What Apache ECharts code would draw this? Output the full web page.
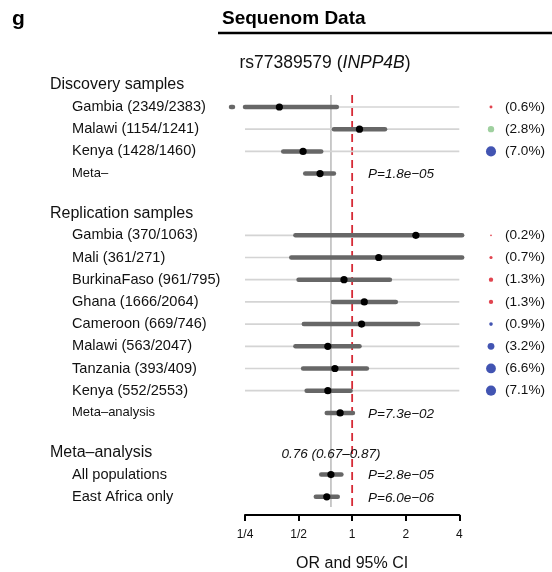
<!DOCTYPE html>
<html>
<head>
<meta charset="utf-8">
<script src="https://cdn.jsdelivr.net/npm/echarts@6/dist/echarts.min.js"></script>
<style>
html,body{margin:0;padding:0;background:#fff;}
#chart{width:552px;height:572px;}
</style>
</head>
<body>
<div id="chart"></div>
<script>
// ---------------- DATA ----------------
var discoveryLabels = ['Gambia (2349/2383)', 'Malawi (1154/1241)', 'Kenya (1428/1460)'];
var discoveryOR     = [0.39, 1.10, 0.53];
var discoveryLo     = [0.21, 0.79, 0.41];
var discoveryHi     = [0.82, 1.53, 0.67];
var discoveryFreq   = [0.6, 2.8, 7.0];
var discoveryGroup  = ['west', 'south', 'east'];
var discoveryMeta   = {label: 'Meta\u2013', or: 0.66, lo: 0.545, hi: 0.79, p: 'P=1.8e\u221205'};

var replicationLabels = ['Gambia (370/1063)', 'Mali (361/271)', 'BurkinaFaso (961/795)', 'Ghana (1666/2064)',
                         'Cameroon (669/746)', 'Malawi (563/2047)', 'Tanzania (393/409)', 'Kenya (552/2553)'];
var replicationOR   = [2.28, 1.41, 0.90, 1.17, 1.13, 0.73, 0.80, 0.73];
var replicationLo   = [0.48, 0.455, 0.50, 0.78, 0.535, 0.48, 0.53, 0.555];
var replicationHi   = [4.15, 4.15, 1.63, 1.76, 2.35, 1.10, 1.21, 0.98];
var replicationFreq = [0.2, 0.7, 1.3, 1.3, 0.9, 3.2, 6.6, 7.1];
var replicationGroup = ['west', 'west', 'west', 'west', 'east', 'east', 'east', 'east'];
var replicationMeta = {label: 'Meta\u2013analysis', or: 0.856, lo: 0.72, hi: 1.01, p: 'P=7.3e\u221202'};

var metaLabels = ['All populations', 'East Africa only'];
var metaOR     = [0.76, 0.72];
var metaLo     = [0.67, 0.625];
var metaHi     = [0.87, 0.83];
var metaP      = ['P=2.8e\u221205', 'P=6.0e\u221206'];
var metaSummaryText = '0.76 (0.67\u20130.87)';

var groupHeaders = ['Discovery samples', 'Replication samples', 'Meta\u2013analysis'];
var tickValues = [0.25, 0.5, 1, 2, 4];
var tickLabels = ['1/4', '1/2', '1', '2', '4'];
var nullOR = 1;
var overallOR = metaOR[0];

// ---------------- LAYOUT / STYLE ----------------
var FONT = '"Liberation Sans", Arial, Helvetica, sans-serif';
var groupColors = {west: '#e1444f', south: '#9fd09f', east: '#4254b2'};
var GAP = 2.78;

var rows = [];
var pos = 0;
function addHeader(text, extra) { rows.push({kind: 'header', label: text, pos: pos - 1, extra: extra}); }
function addStudies(labels, or, lo, hi, freq, grp) {
  for (var i = 0; i < labels.length; i++) {
    rows.push({kind: 'study', label: labels[i], or: or[i], lo: lo[i], hi: hi[i], freq: freq[i], grp: grp[i], pos: pos});
    pos += 1;
  }
}
function addMeta(m, small) {
  rows.push({kind: 'meta', small: small, label: m.label, or: m.or, lo: m.lo, hi: m.hi, p: m.p, pos: pos});
  pos += 1;
}
addHeader(groupHeaders[0]);
addStudies(discoveryLabels, discoveryOR, discoveryLo, discoveryHi, discoveryFreq, discoveryGroup);
addMeta(discoveryMeta, true);
pos += GAP - 1;
addHeader(groupHeaders[1]);
addStudies(replicationLabels, replicationOR, replicationLo, replicationHi, replicationFreq, replicationGroup);
addMeta(replicationMeta, true);
pos += GAP - 1;
addHeader(groupHeaders[2], metaSummaryText);
for (var k = 0; k < metaLabels.length; k++) {
  addMeta({label: metaLabels[k], or: metaOR[k], lo: metaLo[k], hi: metaHi[k], p: metaP[k]}, false);
}
var yMin = -0.54, yMax = pos - 1 + 0.46;

var chart = echarts.init(document.getElementById('chart'), null, {renderer: 'canvas'});

function renderRow(params, api) {
  var row = rows[api.value(0)];
  var y = api.coord([1, row.pos])[1];
  function X(v) { return api.coord([v, row.pos])[0]; }
  var ch = [];
  if (row.kind === 'header') {
    ch.push({type: 'text', style: {x: 50, y: y, text: row.label, font: '16px ' + FONT, fill: '#111', textVerticalAlign: 'middle'}});
    if (row.extra) {
      ch.push({type: 'text', style: {x: X(overallOR), y: y + 2, text: row.extra, font: 'italic 13.5px ' + FONT, fill: '#111', textAlign: 'center', textVerticalAlign: 'middle'}});
    }
    return {type: 'group', children: ch};
  }
  var minV = tickValues[0];
  if (row.kind === 'study') {
    ch.push({type: 'line', shape: {x1: X(tickValues[0]), y1: y, x2: X(tickValues[tickValues.length - 1]), y2: y},
      style: {stroke: '#d4d4d4', lineWidth: 1.7}});
  }
  var x1 = X(Math.max(row.lo, minV)), x2 = X(row.hi);
  ch.push({type: 'line', shape: {x1: x1, y1: y, x2: x2, y2: y}, style: {stroke: '#676767', lineWidth: 4.5, lineCap: 'round'}});
  if (row.lo < minV) {
    ch.push({type: 'line', shape: {x1: x1 - 14, y1: y, x2: x1 - 12, y2: y}, style: {stroke: '#676767', lineWidth: 4.5, lineCap: 'round'}});
  }
  ch.push({type: 'circle', shape: {cx: X(row.or), cy: y, r: 3.6}, style: {fill: '#000'}});
  var small = row.kind === 'meta' && row.small;
  ch.push({type: 'text', style: {x: 72, y: y, text: row.label, font: (small ? '13px ' : '14.6px ') + FONT, fill: '#111', textVerticalAlign: 'middle'}});
  if (row.p) {
    ch.push({type: 'text', style: {x: 368, y: y + 1, text: row.p, font: 'italic 13.5px ' + FONT, fill: '#111', textVerticalAlign: 'middle'}});
  }
  if (row.kind === 'study') {
    ch.push({type: 'circle', shape: {cx: 491, cy: y, r: 1.9 * Math.sqrt(row.freq)}, style: {fill: groupColors[row.grp]}});
    ch.push({type: 'text', style: {x: 505, y: y, text: '(' + row.freq.toFixed(1) + '%)', font: '13.6px ' + FONT, fill: '#111', textVerticalAlign: 'middle'}});
  }
  return {type: 'group', children: ch};
}

function renderRefs(params, api) {
  var top = api.coord([1, yMin])[1], bot = api.coord([1, yMax])[1];
  var xg = api.coord([overallOR, 0])[0], xr = api.coord([nullOR, 0])[0];
  return {type: 'group', children: [
    {type: 'line', shape: {x1: xg, y1: top, x2: xg, y2: bot}, style: {stroke: '#bdbdbd', lineWidth: 1.6}},
    {type: 'line', shape: {x1: xr, y1: top, x2: xr, y2: bot}, style: {stroke: '#d62a36', lineWidth: 1.8, lineDash: [8, 5]}}
  ]};
}

chart.setOption({
  animation: false,
  backgroundColor: '#fff',
  grid: {left: 245, width: 214.3, top: 95, height: 412, containLabel: false, outerBoundsMode: 'none'},
  xAxis: {
    type: 'log', logBase: 2, min: tickValues[0], max: tickValues[tickValues.length - 1],
    splitNumber: 4, offset: 8, position: 'bottom',
    axisLine: {show: true, onZero: false, lineStyle: {color: '#000', width: 2}},
    axisTick: {show: true, length: 6, lineStyle: {color: '#000', width: 2}},
    axisLabel: {margin: 14, fontFamily: FONT, fontSize: 12, color: '#111',
      formatter: function (v) {
        for (var i = 0; i < tickValues.length; i++) if (Math.abs(tickValues[i] - v) < 1e-6) return tickLabels[i];
        return '';
      }},
    splitLine: {show: false}, minorTick: {show: false},
    name: 'OR and 95% CI', nameLocation: 'middle', nameGap: 41,
    nameTextStyle: {fontFamily: FONT, fontSize: 16, color: '#111'}
  },
  yAxis: {type: 'value', inverse: true, min: yMin, max: yMax, show: false},
  series: [
    {type: 'custom', coordinateSystem: 'cartesian2d', data: [[0]], renderItem: renderRefs, z: 1, silent: true},
    {type: 'custom', coordinateSystem: 'cartesian2d', data: rows.map(function (r, i) { return [i]; }), renderItem: renderRow, z: 2, silent: true}
  ],
  graphic: [
    {type: 'text', left: 12, top: 9, style: {text: 'g', font: 'bold 21px ' + FONT, fill: '#000'}},
    {type: 'text', left: 222, top: 9, style: {text: 'Sequenom Data', font: 'bold 19px ' + FONT, fill: '#000'}},
    {type: 'line', shape: {x1: 218, y1: 33, x2: 552, y2: 33}, style: {stroke: '#000', lineWidth: 2.5}},
    {type: 'text', x: 325, y: 63, style: {
      text: '{n|rs77389579 (}{i|INPP4B}{n|)}', textAlign: 'center', textVerticalAlign: 'middle',
      rich: {n: {font: '17.5px ' + FONT, fill: '#111'}, i: {font: 'italic 17.5px ' + FONT, fill: '#111'}}
    }}
  ]
});
</script>
</body>
</html>
